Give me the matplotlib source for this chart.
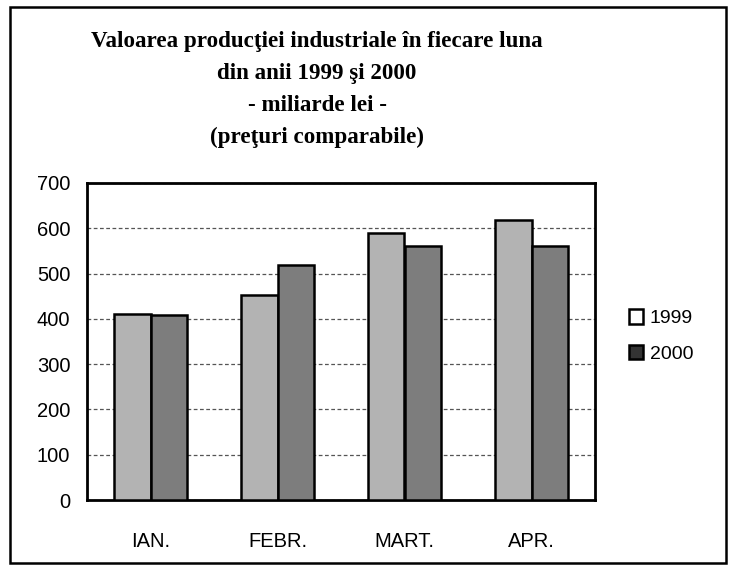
import matplotlib
matplotlib.use("Agg")
import matplotlib.pyplot as plt
import numpy as np
from matplotlib.patches import Patch, Rectangle

categories = ["IAN.", "FEBR.", "MART.", "APR."]
years = ["1999", "2000"]
values_1999 = [410, 453, 590, 618]
values_2000 = [408, 520, 561, 561]
yticks = [0, 100, 200, 300, 400, 500, 600, 700]
title_lines = [
    "Valoarea producţiei industriale în fiecare luna",
    "din anii 1999 şi 2000",
    "- miliarde lei -",
    "(preţuri comparabile)",
]

W, H = 732, 566
fig = plt.figure(figsize=(W / 100, H / 100), dpi=100)
fig.patch.set_facecolor("white")

# outer frame
fig.add_artist(Rectangle((10 / W, 1 - 563 / H), (726 - 10) / W, (563 - 7) / H,
                         transform=fig.transFigure, fill=False, ec="black", lw=1.8))

ax = fig.add_axes([87 / W, 1 - 500 / H, (595 - 87) / W, (500 - 183) / H])
x = np.arange(len(categories))
bw = 0.29
ax.bar(x - bw / 2, values_1999, bw, color="#b3b3b3", edgecolor="black", lw=1.8, zorder=3)
ax.bar(x + bw / 2, values_2000, bw, color="#7d7d7d", edgecolor="black", lw=1.8, zorder=3)

ax.set_ylim(0, 700)
ax.set_xlim(-0.5, len(categories) - 0.5)
ax.set_yticks(yticks)
ax.set_yticklabels([str(v) for v in yticks], fontsize=14.5, family="Liberation Sans")
ax.set_xticks(x)
ax.set_xticklabels(categories, fontsize=14.5, family="Liberation Sans")
ax.tick_params(axis="y", length=0, pad=12)
ax.tick_params(axis="x", length=0, pad=23)
ax.yaxis.grid(True, linestyle=(0, (3, 2)), color="#555555", lw=0.9, zorder=1)
ax.set_axisbelow(True)
for s in ax.spines.values():
    s.set_linewidth(2)
    s.set_color("black")

for i, line in enumerate(title_lines):
    fig.text(317 / W, 1 - (42 + i * 31.7) / H, line, ha="center", va="center",
             fontsize=16.6, fontweight="bold", family="Liberation Serif")

handles = [Patch(facecolor="white", edgecolor="black", lw=1.8),
           Patch(facecolor="#333333", edgecolor="black", lw=1.8)]
fig.legend(handles, years, loc="center left", bbox_to_anchor=(611 / W, 1 - 336 / H),
           frameon=False, prop={"family": "Liberation Sans", "size": 14},
           handlelength=0.75, handleheight=0.75, handletextpad=0.35, labelspacing=0.9)

fig.savefig("out.png", dpi=100)
